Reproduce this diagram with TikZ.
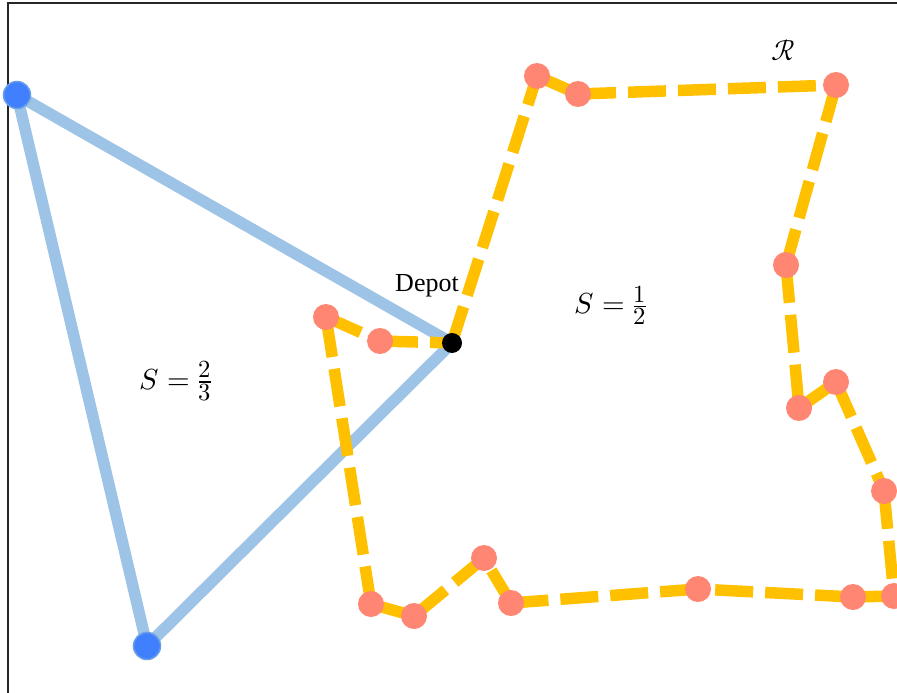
\documentclass[tikz,border=0pt]{standalone}
\usepackage{graphicx}
\usepackage{unicode-math}
\setmainfont{Liberation Serif}
\setmathfont{Latin Modern Math}
\usetikzlibrary{backgrounds}
\definecolor{tourblue}{HTML}{9DC3E6}
\definecolor{custblue}{HTML}{4080FF}
\definecolor{custedge}{HTML}{6A9EE6}
\definecolor{routegold}{HTML}{FFC000}
\definecolor{stopsalmon}{HTML}{FF8672}
\newcommand{\fracdigit}[1]{\scalebox{0.85}{\fontsize{29}{32}\selectfont$\textstyle #1$}}

\begin{document}
\begin{tikzpicture}[x=1pt,y=-1pt,
    bigcust/.style={circle,fill=custblue,draw=custedge,line width=1.5pt,minimum size=27pt,inner sep=0pt},
    stopdot/.style={circle,fill=stopsalmon,minimum size=26pt,inner sep=0pt},
    depotdot/.style={circle,fill=black,minimum size=20pt,inner sep=0pt},
    tourline/.style={tourblue,line width=11.5pt},
    routeline/.style={routegold,line width=11.5pt,dash pattern=on 38pt off 12pt},
    mathlbl/.style={font=\fontsize{29}{32}\selectfont}]
      \clip (0,0) rectangle (897,693);
      % Frame
      \draw[line width=2pt,black!85] (8,3) rectangle (960,760);
      % Depot and far customers
      \node[depotdot] (dep) at (452,343) {};
      \node[bigcust] (c1) at (17,95) {};
      \node[bigcust] (c2) at (147,646) {};
      % Route stops
      \foreach \n/\p in {s1/{537,76}, s2/{578,94}, s3/{836,85}, s4/{786,265},
          s5/{799,408}, s6/{836,382}, s7/{884,491}, s8/{894,596}, s9/{853,597},
          s10/{698,589}, s11/{511,603}, s12/{484,558}, s13/{414,616},
          s14/{371,604}, s15/{326,317}, s16/{380,341}}
        \node[stopdot] (\n) at (\p) {};
      % Tours
      \begin{scope}[on background layer]
        \foreach \a/\b in {c1/dep, c1/c2, c2/dep}
          \draw[tourline] (\a.center) -- (\b.center);
        \foreach \a/\b in {dep/s1, s1/s2, s2/s3, s3/s4, s4/s5, s5/s6, s6/s7,
            s7/s8, s8/s9, s9/s10, s10/s11, s11/s12, s12/s13, s13/s14,
            s14/s15, s15/s16, s16/dep}
          \draw[routeline] (\a.center) -- (\b.center);
      \end{scope}
      % Labels
      \node[font=\fontsize{26}{30}\selectfont] (deplbl) at (427,286) {Depot};
      \node[mathlbl] (sleft) at (176,381) {$S=\frac{\fracdigit{2}}{\fracdigit{3}}$};
      \node[mathlbl] (sright) at (611,305) {$S=\frac{\fracdigit{1}}{\fracdigit{2}}$};
      \node[mathlbl] (rlbl) at (783,50) {$\mathcal{R}$};
    \end{tikzpicture}
\end{document}
